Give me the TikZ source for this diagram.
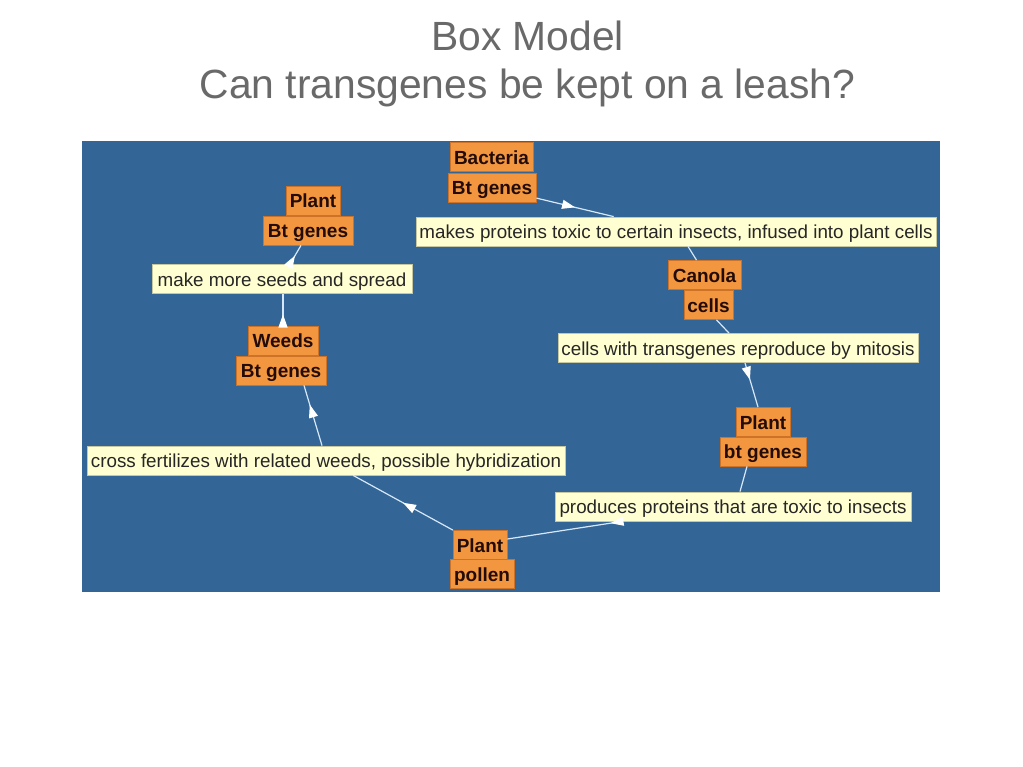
\documentclass[tikz,border=0pt]{standalone}
\usepackage{fontspec}
\setmainfont{Liberation Sans}
\usetikzlibrary{arrows.meta,decorations.markings}
\definecolor{titlegray}{RGB}{105,105,105}
\definecolor{panelblue}{RGB}{51,101,150}
\definecolor{conceptfill}{RGB}{243,150,64}
\definecolor{conceptdraw}{RGB}{205,115,40}
\definecolor{concepttext}{RGB}{35,12,5}
\definecolor{phrasefill}{RGB}{255,255,210}
\definecolor{phrasedraw}{RGB}{200,200,160}
\definecolor{linkc}{RGB}{215,232,250}
\tikzset{
  concept/.style={rectangle, fill=conceptfill, draw=conceptdraw, line width=0.8pt,
    inner sep=0pt, minimum height=29pt, text height=14.5pt, text depth=0pt, text=concepttext,
    font=\fontsize{19}{22}\selectfont\bfseries},
  phrase/.style={rectangle, fill=phrasefill, draw=phrasedraw, line width=0.8pt,
    inner sep=0pt, minimum height=29pt, text height=14.5pt, text depth=0pt, text=black!85,
    font=\fontsize{18.8}{22}\selectfont},
  titletext/.style={text=titlegray, font=\fontsize{40.8}{48}\selectfont, anchor=base, inner sep=0pt},
  link/.style={draw=linkc, line width=1.2pt},
  midarrow/.style={postaction={decorate}, decoration={markings,
    mark=at position #1 with {\arrow{Triangle[width=9pt,length=13pt,color=white]}}}}
}
\begin{document}
\begin{tikzpicture}[x=1pt,y=-1pt]
\useasboundingbox (0,0) rectangle (1023,767);
\fill[white] (0,0) rectangle (1023,767);
% title
\node[titletext] (t1) at (527.5,51) {Box Model};
\node[titletext] (t2) at (527.5,99) {Can transgenes be kept on a leash?};
% panel
\fill[panelblue] (82,141) rectangle (940,592);
% concepts
\node[concept, minimum width=54pt] (A1) at (313,200.5) {Plant};
\node[concept, minimum width=90pt] (A2) at (308,230.5) {Bt genes};
\node[concept, minimum width=70pt] (B1) at (283,340.5) {Weeds};
\node[concept, minimum width=90pt] (B2) at (281,370.5) {Bt genes};
\node[concept, minimum width=54pt] (C1) at (480,545) {Plant};
\node[concept, minimum width=64pt] (C2) at (482,574) {pollen};
\node[concept, minimum width=54pt] (D1) at (763,422) {Plant};
\node[concept, minimum width=86pt] (D2) at (763,451.5) {bt genes};
\node[concept, minimum width=73pt] (E1) at (704.5,275) {Canola};
\node[concept, minimum width=49pt] (E2) at (708.5,305) {cells};
\node[concept, minimum width=83pt] (F1) at (491.5,157) {Bacteria};
\node[concept, minimum width=88pt] (F2) at (492,187.5) {Bt genes};
% linking phrases
\node[phrase, minimum width=260pt] (L1) at (282,279) {make more seeds and spread};
\node[phrase, minimum width=478pt] (L2) at (326,460.5) {cross fertilizes with related weeds, possible hybridization};
\node[phrase, minimum width=356pt] (L3) at (733,506.5) {produces proteins that are toxic to insects};
\node[phrase, minimum width=360pt] (L4) at (738,348) {cells with transgenes reproduce by mitosis};
\node[phrase, minimum width=520pt] (L5) at (676,231.5) {makes proteins toxic to certain insects, infused into plant cells};
% links
\draw[link, midarrow=0.5] (F2) -- (L5);
\draw[link] ([xshift=12pt]L5.south) -- ([xshift=-8pt]E1.north);
\draw[link] ([xshift=8pt]E2.south) -- ([xshift=-9pt]L4.north);
\draw[link, midarrow=0.38] ([xshift=7pt]L4.south) -- ([xshift=-5pt]D1.north);
\draw[link] ([xshift=-16pt]D2.south) -- ([xshift=7pt]L3.north);
\draw[link, midarrow=0.1] ([xshift=-111pt]L3.south) -- ([yshift=6pt]C1.east);
\draw[link, midarrow=0.5] (C1) -- (L2);
\draw[link, midarrow=0.68] ([xshift=-4pt]L2.north) -- ([xshift=23pt]B2.south);
\draw[link, midarrow=0.35] (B1.north) -- (L1.south -| B1.north);
\draw[link, midarrow=0.45] ([xshift=8pt]L1.north) -- ([xshift=-7pt]A2.south);
\end{tikzpicture}
\end{document}
